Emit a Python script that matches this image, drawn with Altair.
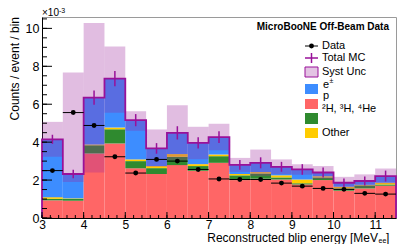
import altair as alt
import pandas as pd

# ---------------- data ----------------
bin_lo = [3.0, 3.5, 4.0, 4.5, 5.0, 5.5, 6.0, 6.5, 7.0, 7.5, 8.0, 8.5, 9.0, 9.5, 10.0, 10.5, 11.0]
bin_width = 0.5
p_vals = [0.93, 0.91, 3.40, 3.93, 2.62, 2.32, 2.79, 2.49, 2.91, 2.00, 2.07, 2.03, 1.77, 2.00, 1.44, 1.56, 1.70]
nuc_vals = [0.08, 0.11, 0.44, 0.75, 0.38, 0.31, 0.44, 0.25, 0.35, 0.25, 0.28, 0.11, 0.06, 0.14, 0.12, 0.16, 0.07]
other_vals = [0.09, 0.02, 0.03, 0.09, 0.09, 0.11, 0.14, 0.10, 0.09, 0.07, 0.07, 0.11, 0.20, 0.06, 0.09, 0.03, 0.09]
mc_total = [4.15, 2.32, 6.35, 7.35, 5.16, 3.67, 4.49, 3.96, 4.27, 2.80, 2.91, 2.70, 2.56, 2.40, 1.86, 1.95, 2.21]
mc_err = [0.24, 0.22, 0.38, 0.40, 0.32, 0.28, 0.35, 0.30, 0.31, 0.26, 0.29, 0.26, 0.28, 0.26, 0.22, 0.24, 0.29]
syst_lo = [3.23, 1.90, 2.40, 5.55, 4.60, 2.70, 3.05, 3.10, 3.57, 2.43, 2.21, 2.31, 2.28, 2.06, 1.55, 1.60, 1.81]
syst_hi = [5.07, 7.67, 10.28, 9.05, 5.63, 4.67, 5.95, 4.81, 4.97, 3.17, 3.61, 3.09, 2.84, 2.74, 2.17, 2.30, 2.61]
data_vals = [2.50, 5.56, 4.88, 3.23, 2.37, 3.09, 3.00, 2.56, 2.06, 2.03, 2.03, 1.84, 1.68, 1.56, 1.51, 1.30, 1.26]

x_ticks = [3, 4, 5, 6, 7, 8, 9, 10, 11]
y_ticks = [0, 2, 4, 6, 8, 10]

C_E = "#3d8dff"
C_P = "#ff6666"
C_NUC = "#2f8a2f"
C_OTHER = "#ffcc00"
C_MC = "#991199"
C_SYST = "#9b269b"
FONT = "Liberation Sans"

W, H = 354, 201
XMIN, XMAX = 3.0, 11.5
YMIN, YMAX = 0.0, 10.6

xs = alt.Scale(domain=[XMIN, XMAX], nice=False, zero=False)
ys = alt.Scale(domain=[YMIN, YMAX], nice=False)

# ---------------- tables ----------------
rows = []
for i, lo in enumerate(bin_lo):
    hi = lo + bin_width
    e_val = mc_total[i] - p_vals[i] - nuc_vals[i] - other_vals[i]
    base = 0.0
    for name, val, col in [("p", p_vals[i], C_P), ("nuc", nuc_vals[i], C_NUC),
                           ("other", other_vals[i], C_OTHER), ("e", e_val, C_E)]:
        rows.append(dict(lo=lo, hi=hi, y0=base, y1=base + val, comp=name, col=col))
        base += val
stack_df = pd.DataFrame(rows)

bins_df = pd.DataFrame(dict(
    lo=bin_lo,
    hi=[b + bin_width for b in bin_lo],
    mid=[b + bin_width / 2 for b in bin_lo],
    mc=mc_total,
    mc_lo=[m - e for m, e in zip(mc_total, mc_err)],
    mc_hi=[m + e for m, e in zip(mc_total, mc_err)],
    s_lo=syst_lo,
    s_hi=syst_hi,
    data=data_vals,
))

# outline of the total MC histogram (closed step)
ox = [bin_lo[0]] + bin_lo + [bin_lo[-1] + bin_width, bin_lo[-1] + bin_width]
oy = [0.0] + mc_total + [mc_total[-1], 0.0]
outline_df = pd.DataFrame(dict(x=ox, y=oy, order=list(range(len(ox)))))

base = alt.Chart(bins_df)

stack = alt.Chart(stack_df).mark_bar(strokeWidth=0).encode(
    x=alt.X("lo:Q", scale=xs, axis=alt.Axis(values=x_ticks, format="d", title=None, ticks=False,
                                            labelFontSize=12, labelFont=FONT, labelColor="black",
                                            labelPadding=1, domainColor="black", grid=False,
                                            labelFlush=False)),
    x2="hi:Q",
    y=alt.Y("y0:Q", scale=ys, axis=alt.Axis(values=y_ticks, title=None, ticks=False,
                                            labelFontSize=12.5, labelFont=FONT, labelColor="black",
                                            labelPadding=3, domainColor="black", grid=False,
                                            labelFlush=False)),
    y2="y1:Q",
    color=alt.Color("col:N", scale=None),
)

band = base.mark_bar(color=C_SYST, opacity=0.3, strokeWidth=0).encode(
    x=alt.X("lo:Q", scale=xs), x2="hi:Q",
    y=alt.Y("s_lo:Q", scale=ys), y2="s_hi:Q",
)

outline = alt.Chart(outline_df).mark_line(color=C_MC, strokeWidth=1.8, interpolate="step-after").encode(
    x=alt.X("x:Q", scale=xs), y=alt.Y("y:Q", scale=ys), order="order:Q",
)

mc_errbar = base.mark_rule(color=C_MC, strokeWidth=1.5).encode(
    x=alt.X("mid:Q", scale=xs), y=alt.Y("mc_lo:Q", scale=ys), y2="mc_hi:Q",
)

data_xerr = base.mark_rule(color="black", strokeWidth=1).encode(
    x=alt.X("lo:Q", scale=xs), x2="hi:Q", y=alt.Y("data:Q", scale=ys),
)

data_pts = base.mark_point(filled=True, color="black", size=24, opacity=1, shape="circle").encode(
    x=alt.X("mid:Q", scale=xs), y=alt.Y("data:Q", scale=ys),
)

# inner ROOT-style ticks
xmaj = pd.DataFrame(dict(v=x_ticks))
xmin_t = pd.DataFrame(dict(v=[round(3 + 0.2 * k, 2) for k in range(43)]))
ymaj = pd.DataFrame(dict(v=y_ticks))
ymin_t = pd.DataFrame(dict(v=[0.5 * k for k in range(22)]))

tick_x_major = alt.Chart(xmaj).mark_rule(color="black", strokeWidth=1).encode(
    x=alt.X("v:Q", scale=xs), y=alt.value(H), y2=alt.value(H - 6))
tick_x_minor = alt.Chart(xmin_t).mark_rule(color="black", strokeWidth=1).encode(
    x=alt.X("v:Q", scale=xs), y=alt.value(H), y2=alt.value(H - 3))
tick_y_major = alt.Chart(ymaj).mark_rule(color="black", strokeWidth=1).encode(
    y=alt.Y("v:Q", scale=ys), x=alt.value(0), x2=alt.value(10))
tick_y_minor = alt.Chart(ymin_t).mark_rule(color="black", strokeWidth=1).encode(
    y=alt.Y("v:Q", scale=ys), x=alt.value(0), x2=alt.value(5))

# ---------------- legend (page coords -> plot coords: x-42, y-17) ----------------
OX, OY = 42, 17
def T(text, x, y, size=11, align="left", weight="normal", angle=0, baseline="middle"):
    return alt.Chart(pd.DataFrame({"t": [text]})).mark_text(
        text=text, font=FONT, fontSize=size, align=align, baseline=baseline,
        fontWeight=weight, angle=angle, color="black").encode(
        x=alt.value(x - OX), y=alt.value(y - OY))

def box(x1, x2, y1, y2, color, opacity=1.0, stroke=None):
    kw = dict(color=color, opacity=opacity)
    if stroke:
        kw.update(stroke=stroke, strokeWidth=1, strokeOpacity=1)
    else:
        kw.update(strokeWidth=0)
    return alt.Chart(pd.DataFrame({"a": [0]})).mark_rect(**kw).encode(
        x=alt.value(x1 - OX), x2=alt.value(x2 - OX), y=alt.value(y1 - OY), y2=alt.value(y2 - OY))

def hline(x1, x2, y, color, w=1.0):
    return alt.Chart(pd.DataFrame({"a": [0]})).mark_rule(color=color, strokeWidth=w).encode(
        x=alt.value(x1 - OX), x2=alt.value(x2 - OX), y=alt.value(y - OY))

def vline(x, y1, y2, color, w=1.0):
    return alt.Chart(pd.DataFrame({"a": [0]})).mark_rule(color=color, strokeWidth=w).encode(
        x=alt.value(x - OX), y=alt.value(y1 - OY), y2=alt.value(y2 - OY))

LX1, LX2, LXC, TX = 305, 318, 311.5, 322
legend = [
    T("MicroBooNE Off-Beam Data", 389, 27, size=10, align="right", weight="bold"),
    hline(LX1, LX2, 46, "black"),
    alt.Chart(pd.DataFrame({"a": [0]})).mark_point(filled=True, color="black", size=24, opacity=1).encode(
        x=alt.value(LXC - OX), y=alt.value(46 - OY)),
    T("Data", TX, 46),
    hline(LX1, LX2, 58, C_MC, 1.5),
    vline(LXC, 53, 63, C_MC, 1.5),
    T("Total MC", TX, 58),
    box(LX1, LX2, 67, 77, "#e3c3e3", stroke=C_MC),
    T("Syst Unc", TX, 72),
    box(LX1, LX2, 84, 94, C_E),
    T("e", TX + 1, 85),
    T("±", TX + 7.5, 81, size=7),
    box(LX1, LX2, 99, 109, C_P),
    T("p", TX + 1, 96),
    box(LX1, LX2, 113, 124, C_NUC),
    T("²H, ³H, ⁴He", TX, 109),
    box(LX1, LX2, 128, 138, C_OTHER),
    T("Other", TX, 133),
]

# axis titles
titles = [
    T("Counts / event / bin", 15, 17, size=12, align="right", angle=270),
    T("×10", 42, 13, size=10),
    T("-3", 59, 11, size=7),
    T("Reconstructed blip energy [MeV", 378, 237.5, size=12, align="right"),
    T("ee", 378.5, 240.5, size=7),
    T("]", 386, 237.5, size=12),
]

chart = alt.layer(
    stack, band, outline, mc_errbar, data_xerr, data_pts,
    tick_x_major, tick_x_minor, tick_y_major, tick_y_minor,
    *legend, *titles,
).properties(
    width=W, height=H,
    autosize=alt.AutoSizeParams(type="none"),
    padding={"left": 34, "top": 9, "right": 11, "bottom": 26},
    background="white",
).configure_view(
    stroke="#9a9a9a", strokeWidth=1,
).configure_axis(
    domainWidth=1,
)

chart.save("out.html", embed_options={"renderer": "svg", "actions": False})
